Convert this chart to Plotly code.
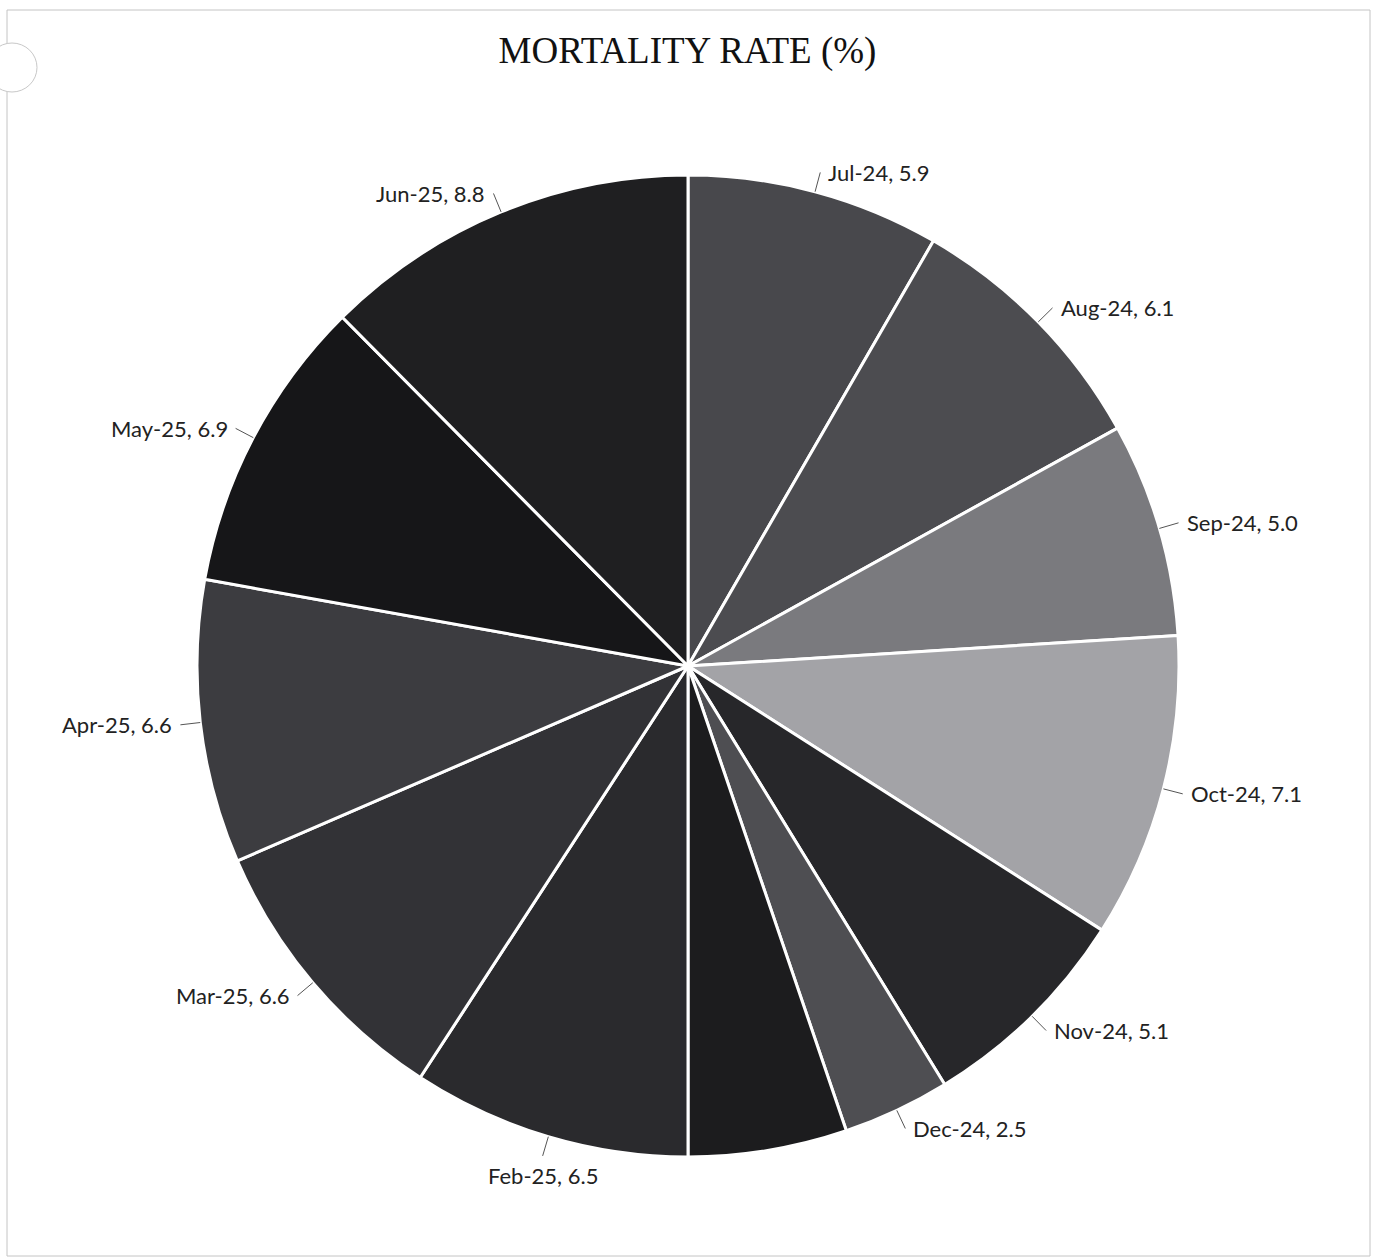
import math
import plotly.graph_objects as go

# ---- data ----
months = ["Jul-24", "Aug-24", "Sep-24", "Oct-24", "Nov-24", "Dec-24",
          "Jan-25", "Feb-25", "Mar-25", "Apr-25", "May-25", "Jun-25"]
rates = [5.9, 6.1, 5.0, 7.1, 5.1, 2.5, 3.7, 6.5, 6.6, 6.6, 6.9, 8.8]
show_label = [True, True, True, True, True, True, False, True, True, True, True, True]

# ---- style ----
colors = ["#48484c", "#4c4c50", "#7a7a7e", "#a3a3a7", "#27272a", "#4e4e52",
          "#1c1c1e", "#2a2a2d", "#323236", "#3c3c40", "#161618", "#1f1f21"]
W, H = 1375, 1258
CX, CY, R = 688, 666, 491  # pie center / radius in pixels

dom_x = [(CX - R) / W, (CX + R) / W]
dom_y = [1 - (CY + R) / H, 1 - (CY - R) / H]

fig = go.Figure(go.Pie(
    labels=months, values=rates, sort=False, direction="clockwise", rotation=0,
    marker=dict(colors=colors, line=dict(color="white", width=3)),
    textinfo="none", hoverinfo="label+value", showlegend=False,
    domain=dict(x=dom_x, y=dom_y),
))

total = sum(rates)
cum = 0.0
shapes = []
annotations = []
for m, v, show in zip(months, rates, show_label):
    mid = (cum + v / 2) / total * 2 * math.pi
    cum += v
    if not show:
        continue
    s, c = math.sin(mid), math.cos(mid)
    x0, y0 = CX + R * s, CY - R * c
    x1, y1 = CX + (R + 20) * s, CY - (R + 20) * c
    thr = 0.15 if c > 0 else 0.3
    if s > thr:
        xa, ya = "left", "middle"
        xt, yt = x1 + 6, y1
    elif s < -thr:
        xa, ya = "right", "middle"
        xt, yt = x1 - 6, y1
    else:
        xa = "center"
        ya = "bottom" if c > 0 else "top"
        xt, yt = x1, y1 + (-4 if c > 0 else 4)
    shapes.append(dict(type="line", xref="paper", yref="paper",
                       x0=x0 / W, y0=1 - y0 / H, x1=x1 / W, y1=1 - y1 / H,
                       line=dict(color="#555555", width=1)))
    annotations.append(dict(xref="paper", yref="paper", x=xt / W, y=1 - yt / H,
                            text=f"{m}, {v:.1f}", showarrow=False,
                            xanchor=xa, yanchor=ya,
                            font=dict(family="Lato, Open Sans, sans-serif", size=22, color="#222222")))

# frame and scan artefacts
shapes.append(dict(type="rect", xref="paper", yref="paper",
                   x0=7 / W, x1=1370 / W, y0=1 - 1256 / H, y1=1 - 10 / H,
                   line=dict(color="#c4c4c4", width=1), layer="below"))
shapes.append(dict(type="circle", xref="paper", yref="paper",
                   x0=-13 / W, x1=37 / W, y0=1 - 92 / H, y1=1 - 43 / H,
                   line=dict(color="#c8c8c8", width=1), fillcolor="white"))

fig.update_layout(
    width=W, height=H,
    margin=dict(l=0, r=0, t=0, b=0),
    paper_bgcolor="white", plot_bgcolor="white",
    title=dict(text="MORTALITY RATE (%)", x=0.5, xanchor="center",
               y=1 - 50 / H, yanchor="middle",
               font=dict(family="Liberation Serif, Times New Roman, serif", size=37, color="#111111")),
    shapes=shapes, annotations=annotations,
)

fig.write_html("out.html")
